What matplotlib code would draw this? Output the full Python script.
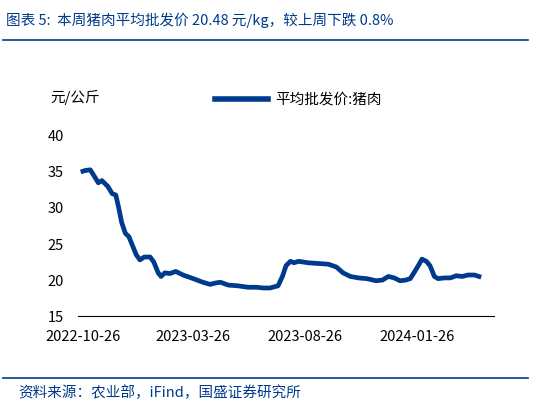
import matplotlib
matplotlib.use("Agg")
import matplotlib.pyplot as plt
import matplotlib.dates as mdates
import pandas as pd
from matplotlib.lines import Line2D

plt.rcParams['font.family'] = ['Noto Sans CJK SC', 'DejaVu Sans']

dates = ["2022-10-26","2022-10-29","2022-11-05","2022-11-10","2022-11-16","2022-11-21","2022-11-29","2022-12-05","2022-12-10",
         "2022-12-14","2022-12-18","2022-12-23","2022-12-28","2023-01-01","2023-01-07","2023-01-12","2023-01-18",
         "2023-01-26","2023-01-31","2023-02-06","2023-02-10","2023-02-15","2023-02-22","2023-03-02","2023-03-12",
         "2023-03-26","2023-04-08","2023-04-18","2023-04-26","2023-05-02","2023-05-13","2023-05-26","2023-06-09",
         "2023-06-20","2023-06-30","2023-07-09","2023-07-20","2023-07-26","2023-07-31","2023-08-06","2023-08-11",
         "2023-08-17","2023-08-30","2023-09-13","2023-09-27","2023-10-08","2023-10-17","2023-10-27","2023-11-07",
         "2023-11-18","2023-11-23","2023-12-01","2023-12-10","2023-12-18","2023-12-26","2024-01-03","2024-01-11",
         "2024-01-17","2024-01-22","2024-01-28","2024-02-02","2024-02-08","2024-02-13","2024-02-19","2024-02-24",
         "2024-03-04","2024-03-12","2024-03-20","2024-03-28","2024-04-05","2024-04-14","2024-04-20"]
prices = [35.1,35.2,35.3,34.5,33.5,33.8,33.0,32.0,31.8,30.0,28.0,26.5,26.0,25.0,23.5,22.8,23.2,
          23.2,22.5,21.0,20.5,21.0,20.9,21.2,20.7,20.2,19.7,19.4,19.6,19.7,19.3,19.2,19.0,
          19.0,18.9,18.9,19.2,20.5,22.0,22.6,22.4,22.6,22.4,22.3,22.2,21.8,21.0,20.5,20.3,
          20.2,20.1,19.9,20.0,20.5,20.3,19.9,20.0,20.2,21.0,22.0,22.9,22.6,22.0,20.5,20.2,
          20.3,20.3,20.6,20.5,20.7,20.7,20.5]
xticks = ["2022-10-26","2023-03-26","2023-08-26","2024-01-26"]

blue = "#003A8C"
fig = plt.figure(figsize=(5.33,4.17), dpi=100)
ax = fig.add_axes([0.146, 0.242, 0.78, 0.432])
ax.plot(pd.to_datetime(dates), prices, color=blue, lw=3.4, solid_joinstyle='round')
ax.set_ylim(15, 40)
ax.set_yticks(range(15, 41, 5))
ax.set_xlim(pd.Timestamp("2022-10-19"), pd.Timestamp("2024-05-10"))
ax.set_xticks(pd.to_datetime(xticks))
ax.xaxis.set_major_formatter(mdates.DateFormatter("%Y-%m-%d"))
for s in ["top", "right", "left"]:
    ax.spines[s].set_visible(False)
ax.spines["bottom"].set_color("black")
ax.tick_params(axis='y', length=0, labelsize=10.5, pad=10)
ax.tick_params(axis='x', length=0, labelsize=10.5, pad=10)

fig.text(0.094, 0.767, "元/公斤", fontsize=10.5, ha='left', va='center')
fig.legend(handles=[Line2D([], [], color=blue, lw=4)], labels=["平均批发价:猪肉"],
           loc='center', bbox_to_anchor=(0.56, 0.761), frameon=False, fontsize=10.5,
           handlelength=3.6, handletextpad=0.5)

fig.text(0.012, 0.952, "图表 5:  本周猪肉平均批发价 20.48 元/kg，较上周下跌 0.8%", fontsize=10.5,
         style='italic', color=blue, ha='left', va='center')
fig.add_artist(Line2D([0.005, 0.99], [0.904, 0.904], color=blue, lw=1.2))
fig.add_artist(Line2D([0.005, 0.99], [0.094, 0.094], color=blue, lw=1.2))
fig.text(0.035, 0.058, "资料来源：农业部，iFind，国盛证券研究所", fontsize=10.5,
         style='italic', color=blue, ha='left', va='center')

fig.savefig("out.png", dpi=100)
